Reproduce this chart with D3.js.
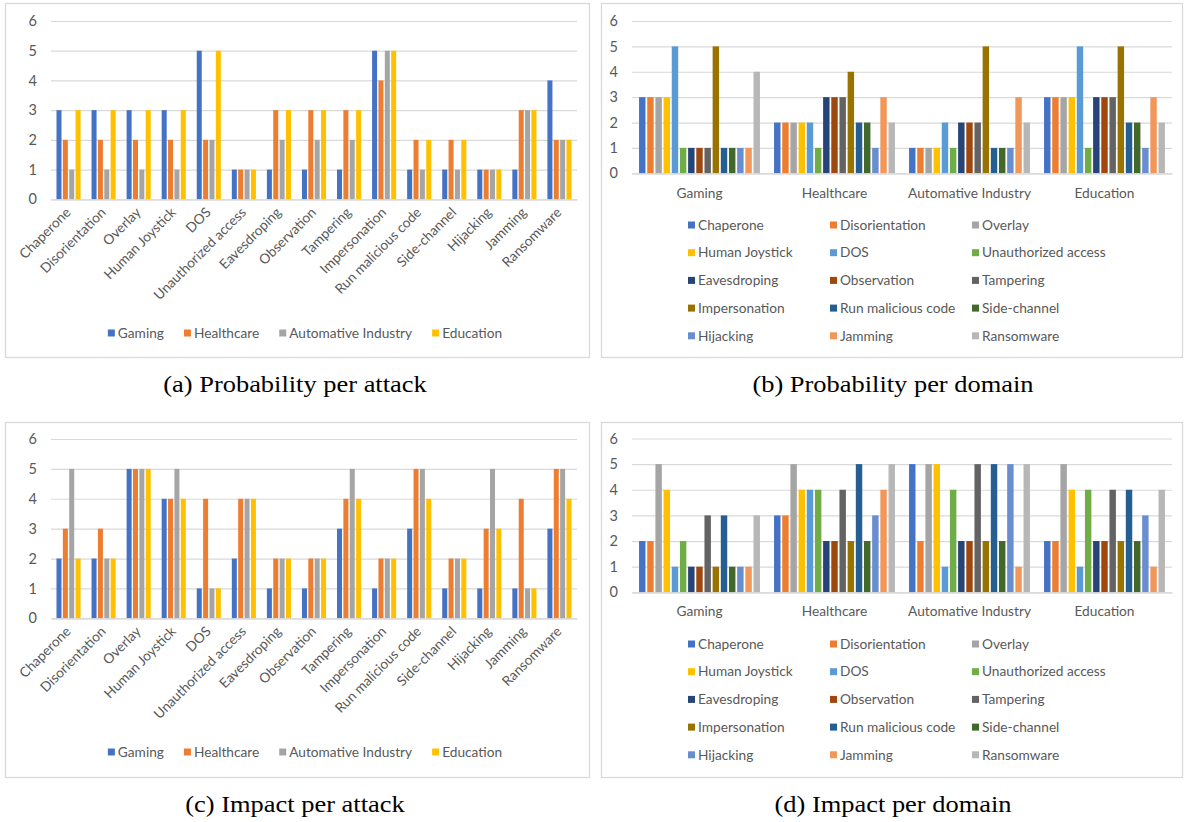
<!DOCTYPE html>
<html>
<head>
<meta charset="utf-8">
<script src="https://cdn.jsdelivr.net/npm/d3@7"></script>
<style>
  body { margin: 0; background: #ffffff; }
  svg { display: block; }
</style>
</head>
<body>
<svg id="fig" width="1185" height="822"></svg>
<script>
// ---- data -------------------------------------------------------------
const attacks = ["Chaperone", "Disorientation", "Overlay", "Human Joystick", "DOS",
  "Unauthorized access", "Eavesdroping", "Observation", "Tampering", "Impersonation",
  "Run malicious code", "Side-channel", "Hijacking", "Jamming", "Ransomware"];
const domains = ["Gaming", "Healthcare", "Automative Industry", "Education"];
const yTicks = [0, 1, 2, 3, 4, 5, 6];

// probability score of each attack, one array per domain (attack order above)
const probGaming     = [3, 3, 3, 3, 5, 1, 1, 1, 1, 5, 1, 1, 1, 1, 4];
const probHealthcare = [2, 2, 2, 2, 2, 1, 3, 3, 3, 4, 2, 2, 1, 3, 2];
const probAutomative = [1, 1, 1, 1, 2, 1, 2, 2, 2, 5, 1, 1, 1, 3, 2];
const probEducation  = [3, 3, 3, 3, 5, 1, 3, 3, 3, 5, 2, 2, 1, 3, 2];

// impact score of each attack, one array per domain
const impactGaming     = [2, 2, 5, 4, 1, 2, 1, 1, 3, 1, 3, 1, 1, 1, 3];
const impactHealthcare = [3, 3, 5, 4, 4, 4, 2, 2, 4, 2, 5, 2, 3, 4, 5];
const impactAutomative = [5, 2, 5, 5, 1, 4, 2, 2, 5, 2, 5, 2, 5, 1, 5];
const impactEducation  = [2, 2, 5, 4, 1, 4, 2, 2, 4, 2, 4, 2, 3, 1, 4];

const captions = ["(a) Probability per attack", "(b) Probability per domain",
                  "(c) Impact per attack", "(d) Impact per domain"];

// ---- style ------------------------------------------------------------
const domainColors = ["#4472C4", "#ED7D31", "#A5A5A5", "#FFC000"];
const attackColors = ["#4472C4", "#ED7D31", "#A5A5A5", "#FFC000", "#5B9BD5", "#70AD47",
  "#264478", "#9E480E", "#636363", "#997300", "#255E91", "#43682B", "#698ED0", "#F1975A", "#B7B7B7"];
const TXT = "#595959", GRID = "#D9D9D9";
const FONT = "Lato, 'Open Sans', sans-serif";
const FS = 13.7;

const svg = d3.select("#fig");

function frame(b) {
  svg.append("rect")
    .attr("x", b.x + 0.5).attr("y", b.y + 0.5)
    .attr("width", b.w).attr("height", b.h)
    .attr("fill", "none").attr("stroke", GRID).attr("stroke-width", 1.3);
}

function valueAxis(g, y, x0, x1) {
  const ax = d3.axisLeft(y).tickValues(yTicks).tickFormat(d3.format("d"))
    .tickSize(-(x1 - x0)).tickPadding(14);
  g.append("g").attr("transform", `translate(${x0},0)`).call(ax)
    .call(s => s.select(".domain").remove())
    .call(s => s.selectAll("line").attr("stroke", GRID).attr("stroke-width", 1.2))
    .call(s => s.selectAll("text").attr("fill", TXT).attr("font-size", 14.5).attr("font-family", FONT));
}

// bar groups inside one category band: Excel-like overlap -27 %, gap width 219 %
function innerScale(n, width) {
  return d3.scaleBand().domain(d3.range(n)).range([0, width])
    .paddingInner(0.27 / 1.27).paddingOuter(1.095 / 1.27);
}

function caption(text, cx, y) {
  svg.append("text")
    .attr("transform", `translate(${cx},${y}) scale(1.15,1)`)
    .attr("text-anchor", "middle")
    .attr("font-family", "'Liberation Serif', serif")
    .attr("font-size", 23).attr("fill", "#000")
    .text(text);
}

// ---- chart with attacks on the x axis, one bar per domain --------------
function attackPanel(L, series) {
  frame(L.box);
  const g = svg.append("g");
  const x = d3.scaleBand().domain(attacks).range([L.x0, L.x1]);
  const xi = innerScale(series.length, x.bandwidth());
  const y = d3.scaleLinear().domain([0, 6]).range([L.yBot, L.yTop]);
  valueAxis(g, y, L.x0, L.x1);

  series.forEach((vals, si) => {
    g.append("g").selectAll("rect").data(vals).join("rect")
      .attr("x", (v, i) => x(attacks[i]) + xi(si))
      .attr("width", xi.bandwidth())
      .attr("y", v => y(v))
      .attr("height", v => y(0) - y(v))
      .attr("fill", domainColors[si]);
  });

  const xa = g.append("g").attr("transform", `translate(0,${L.yBot})`)
    .call(d3.axisBottom(x).tickSize(0).tickSizeOuter(0).tickPadding(0));
  xa.select(".domain").attr("stroke", GRID).attr("stroke-width", 1.2);
  xa.selectAll("text")
    .attr("y", 0).attr("dy", 0)
    .attr("text-anchor", "end")
    .attr("transform", "translate(3,14) rotate(-45)")
    .attr("fill", TXT).attr("font-size", FS).attr("font-family", FONT);

  // single-row legend, centred
  const lg = svg.append("g").attr("font-family", FONT).attr("font-size", FS);
  const items = domains.map((d, i) => {
    const t = lg.append("text").attr("fill", TXT).attr("dy", "0.35em").text(d);
    return { t, w: t.node().getComputedTextLength(), c: domainColors[i] };
  });
  const gap = 20, mk = 7, mg = 10;
  const total = d3.sum(items, d => mg + d.w) + gap * (items.length - 1);
  let cx = L.legCx - total / 2;
  items.forEach(it => {
    lg.append("rect").attr("x", cx).attr("y", L.legY - mk / 2).attr("width", mk).attr("height", mk).attr("fill", it.c);
    it.t.attr("x", cx + mg).attr("y", L.legY);
    cx += mg + it.w + gap;
  });

  caption(L.cap, L.capX, L.capY);
}

// ---- chart with domains on the x axis, one bar per attack ---------------
function domainPanel(L, series) {
  frame(L.box);
  const g = svg.append("g");
  const x = d3.scaleBand().domain(domains).range([L.x0, L.x1]);
  const xi = innerScale(attacks.length, x.bandwidth());
  const y = d3.scaleLinear().domain([0, 6]).range([L.yBot, L.yTop]);
  valueAxis(g, y, L.x0, L.x1);

  const cells = domains.flatMap((d, di) => attacks.map((a, ai) => ({ d, ai, v: series[di][ai] })));
  g.append("g").selectAll("rect").data(cells).join("rect")
    .attr("x", c => x(c.d) + xi(c.ai))
    .attr("width", xi.bandwidth())
    .attr("y", c => y(c.v))
    .attr("height", c => y(0) - y(c.v))
    .attr("fill", c => attackColors[c.ai]);

  const xa = g.append("g").attr("transform", `translate(0,${L.yBot})`)
    .call(d3.axisBottom(x).tickSize(0).tickSizeOuter(0).tickPadding(0));
  xa.select(".domain").attr("stroke", GRID).attr("stroke-width", 1.2);
  xa.selectAll("text")
    .attr("y", L.catDy).attr("dy", "0.35em")
    .attr("fill", TXT).attr("font-size", FS).attr("font-family", FONT);

  // three-column legend
  const lg = svg.append("g").attr("font-family", FONT).attr("font-size", FS);
  attacks.forEach((a, i) => {
    const col = i % 3, row = Math.floor(i / 3);
    const lx = L.legX + col * L.legColW, ly = L.legY + row * L.legRowH;
    lg.append("rect").attr("x", lx).attr("y", ly - 3.5).attr("width", 7).attr("height", 7).attr("fill", attackColors[i]);
    lg.append("text").attr("x", lx + 10).attr("y", ly).attr("dy", "0.35em").attr("fill", TXT).text(a);
  });

  caption(L.cap, L.capX, L.capY);
}

attackPanel({
  box: { x: 5, y: 3, w: 584, h: 354 },
  x0: 51, x1: 577, yTop: 21, yBot: 199.3,
  legCx: 305, legY: 333, cap: captions[0], capX: 295, capY: 392
}, [probGaming, probHealthcare, probAutomative, probEducation]);

domainPanel({
  box: { x: 601, y: 3, w: 581, h: 354 },
  x0: 632, x1: 1172, yTop: 21, yBot: 173.3, catDy: 19.5,
  legX: 688, legColW: 142, legY: 225, legRowH: 27.7,
  cap: captions[1], capX: 893, capY: 392
}, [probGaming, probHealthcare, probAutomative, probEducation]);

attackPanel({
  box: { x: 5, y: 422, w: 584, h: 355 },
  x0: 51, x1: 577, yTop: 439, yBot: 618.3,
  legCx: 305, legY: 752, cap: captions[2], capX: 295, capY: 812
}, [impactGaming, impactHealthcare, impactAutomative, impactEducation]);

domainPanel({
  box: { x: 601, y: 422, w: 581, h: 355 },
  x0: 632, x1: 1172, yTop: 438.5, yBot: 592.3, catDy: 19,
  legX: 688, legColW: 142, legY: 644, legRowH: 27.7,
  cap: captions[3], capX: 893, capY: 812
}, [impactGaming, impactHealthcare, impactAutomative, impactEducation]);
</script>
</body>
</html>
